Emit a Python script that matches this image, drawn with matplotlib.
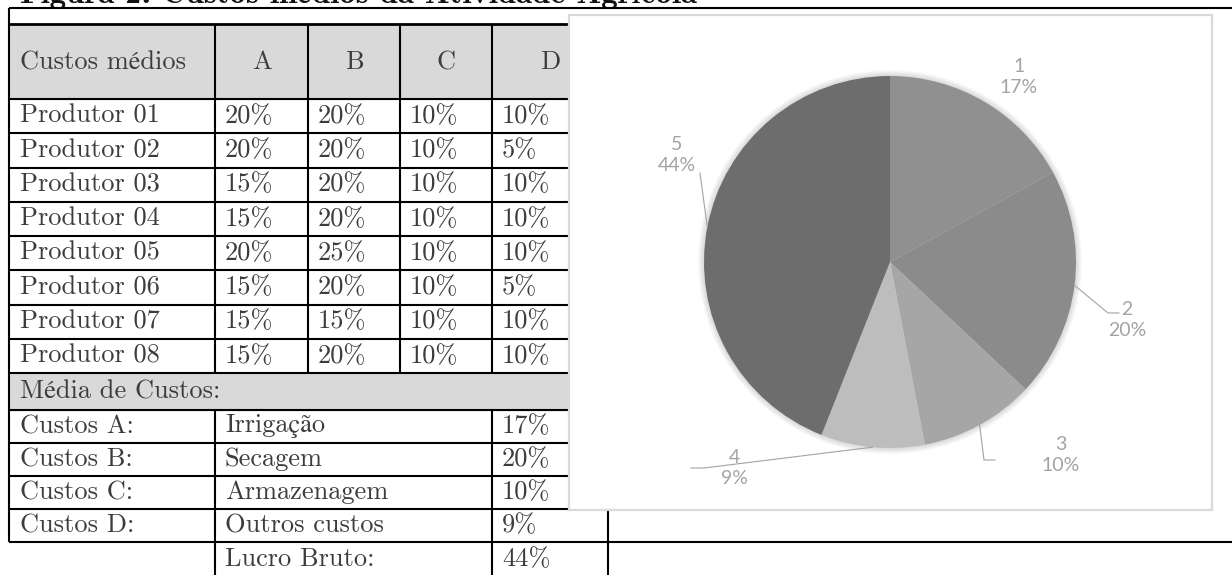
import numpy as np
import matplotlib
matplotlib.use('Agg')
import matplotlib.pyplot as plt
from matplotlib.patches import Rectangle, Circle

# Dados da tabela
produtores = ['Produtor 01', 'Produtor 02', 'Produtor 03', 'Produtor 04',
              'Produtor 05', 'Produtor 06', 'Produtor 07', 'Produtor 08']
colunas = ['A', 'B', 'C', 'D']
custos_a = [20, 20, 15, 15, 20, 15, 15, 15]
custos_b = [20, 20, 20, 20, 25, 20, 15, 20]
custos_c = [10, 10, 10, 10, 10, 10, 10, 10]
custos_d = [10, 5, 10, 10, 10, 5, 10, 10]

media_rotulos = ['Custos A:', 'Custos B:', 'Custos C:', 'Custos D:']
media_nomes = ['Irrigação', 'Secagem', 'Armazenagem', 'Outros custos']
media_valores = [17, 20, 10, 9]
lucro_bruto = 44

# Dados do grafico de pizza
pizza_rotulos = ['1', '2', '3', '4', '5']
pizza_valores = [17, 20, 10, 9, 44]

titulo = 'Figura 2: Custos médios da Atividade Agrícola'

W, H = 1232, 575
fig = plt.figure(figsize=(W / 100, H / 100), dpi=100)
ax = fig.add_axes([0, 0, 1, 1])
ax.set_xlim(0, W)
ax.set_ylim(H, 0)
ax.axis('off')

serif = ['cmr10', 'STIXGeneral']
tcor = '#3c3c3c'
fs = 19
lw = 1.5
cinza = '#d9d9d9'


def hline(y, x0, x1, w=lw):
    ax.plot([x0, x1], [y, y], color='black', lw=w, solid_capstyle='butt', zorder=3)


def vline(x, y0, y1, w=lw):
    ax.plot([x, x], [y0, y1], color='black', lw=w, solid_capstyle='butt', zorder=3)


def txt(x, y, s, ha='left'):
    ax.text(x, y, s, ha=ha, va='center', fontsize=fs, family=serif, color=tcor, zorder=4)


# colunas da tabela (px)
xs = [9, 215, 308, 400, 492, 608]
pad = 10
y_top = 8
y_head = (24, 99)
row_h = 34.25
y_rows = [y_head[1] + i * row_h for i in range(len(produtores) + 1)]
y_media = (y_rows[-1], 410)
y_custos = [410, 443, 476, 509, 542]
y_lucro = (542, 580)

# titulo (cortado no topo), largura ajustada
tt = ax.text(20, 3, titulo, ha='left', va='baseline', fontsize=fs,
             family=['cmb10', 'STIXGeneral'], color='#111111')
fig.canvas.draw()
tt.set_fontsize(fs * 678 / tt.get_window_extent().width)

# fundos cinza
ax.add_patch(Rectangle((xs[0], y_head[0]), xs[-1] - xs[0], y_head[1] - y_head[0], color=cinza, zorder=1))
ax.add_patch(Rectangle((xs[0], y_media[0]), xs[-1] - xs[0], y_media[1] - y_media[0], color=cinza, zorder=1))

# linhas
hline(y_top, xs[0], W)
hline(y_head[0], xs[0], xs[-1], 2.0)
for y in y_rows:
    hline(y, xs[0], xs[-1])
for y in y_custos[:-1]:
    hline(y, xs[0], xs[-1])
hline(y_custos[-1], xs[0], W)
vline(xs[0], y_top, y_custos[-1])
for x in xs[1:5]:
    vline(x, y_head[0], y_media[0])
for x in [xs[1], xs[4], xs[5]]:
    vline(x, y_custos[0], H)

# cabecalho
ymid = (y_head[0] + y_head[1]) / 2 + 1
txt(xs[0] + 11, ymid, 'Custos médios')
for i, c in enumerate(colunas):
    txt((xs[i + 1] + xs[i + 2]) / 2, ymid, c, ha='center')

# linhas dos produtores
for i, p in enumerate(produtores):
    ym = (y_rows[i] + y_rows[i + 1]) / 2
    txt(xs[0] + 11, ym, p)
    for j, serie in enumerate([custos_a, custos_b, custos_c, custos_d]):
        txt(xs[j + 1] + pad, ym, f'{serie[i]}%')

txt(xs[0] + 11, sum(y_media) / 2, 'Média de Custos:')
for i in range(len(media_rotulos)):
    ym = (y_custos[i] + y_custos[i + 1]) / 2
    txt(xs[0] + 11, ym, media_rotulos[i])
    txt(xs[1] + pad, ym, media_nomes[i])
    txt(xs[4] + pad, ym, f'{media_valores[i]}%')
ym = (y_lucro[0] + 575) / 2 + 1
txt(xs[1] + pad, ym, 'Lucro Bruto:')
txt(xs[4] + pad, ym, f'{lucro_bruto}%')

# moldura do grafico
fx0, fy0, fx1, fy1 = 569, 15, 1212, 510
ax.add_patch(Rectangle((fx0, fy0), fx1 - fx0, fy1 - fy0, facecolor='white',
                       edgecolor='#d9d9d9', lw=1.6, zorder=10))

# grafico de pizza
pax = fig.add_axes([fx0 / W, (H - fy1) / H, (fx1 - fx0) / W, (fy1 - fy0) / H])
cx, cy, r = 890, H - 262, 186
cores = ['#909090', '#8b8b8b', '#a6a6a6', '#bdbdbd', '#6d6d6d']
for rr in np.arange(r + 1, r + 7):
    pax.add_patch(Circle((cx, cy), rr, color='black', alpha=0.025, lw=0, zorder=0))
wedges, _ = pax.pie(pizza_valores, colors=cores, startangle=90, counterclock=False,
                    radius=r, center=(cx, cy), wedgeprops=dict(linewidth=0))
pax.set_xlim(fx0, fx1)
pax.set_ylim(H - fy1, H - fy0)
pax.set_aspect('auto')
pax.axis('off')

rot_pos = [(1019, 77), (1127, 320), (1061, 455), (734, 468), (677, 155)]
guias = [[], [(1108, 313), (1119, 313)], [(984, 460), (995, 460)],
         [(704, 468), (691, 468)], [(700, 173)]]
lcor = '#a3a3a3'
for w, lab, v, (lx, ly), g in zip(wedges, pizza_rotulos, pizza_valores, rot_pos, guias):
    pax.text(lx, H - ly, f'{lab}\n{v}%', ha='center', va='center', fontsize=14,
             family=['Lato', 'DejaVu Sans'], color=lcor, linespacing=1.3)
    if g:
        ang = np.deg2rad((w.theta1 + w.theta2) / 2)
        px = [cx + r * np.cos(ang)] + [p[0] for p in g]
        py = [cy + r * np.sin(ang)] + [H - p[1] for p in g]
        pax.plot(px, py, color=lcor, lw=0.8)

fig.savefig('out.png', dpi=100)
